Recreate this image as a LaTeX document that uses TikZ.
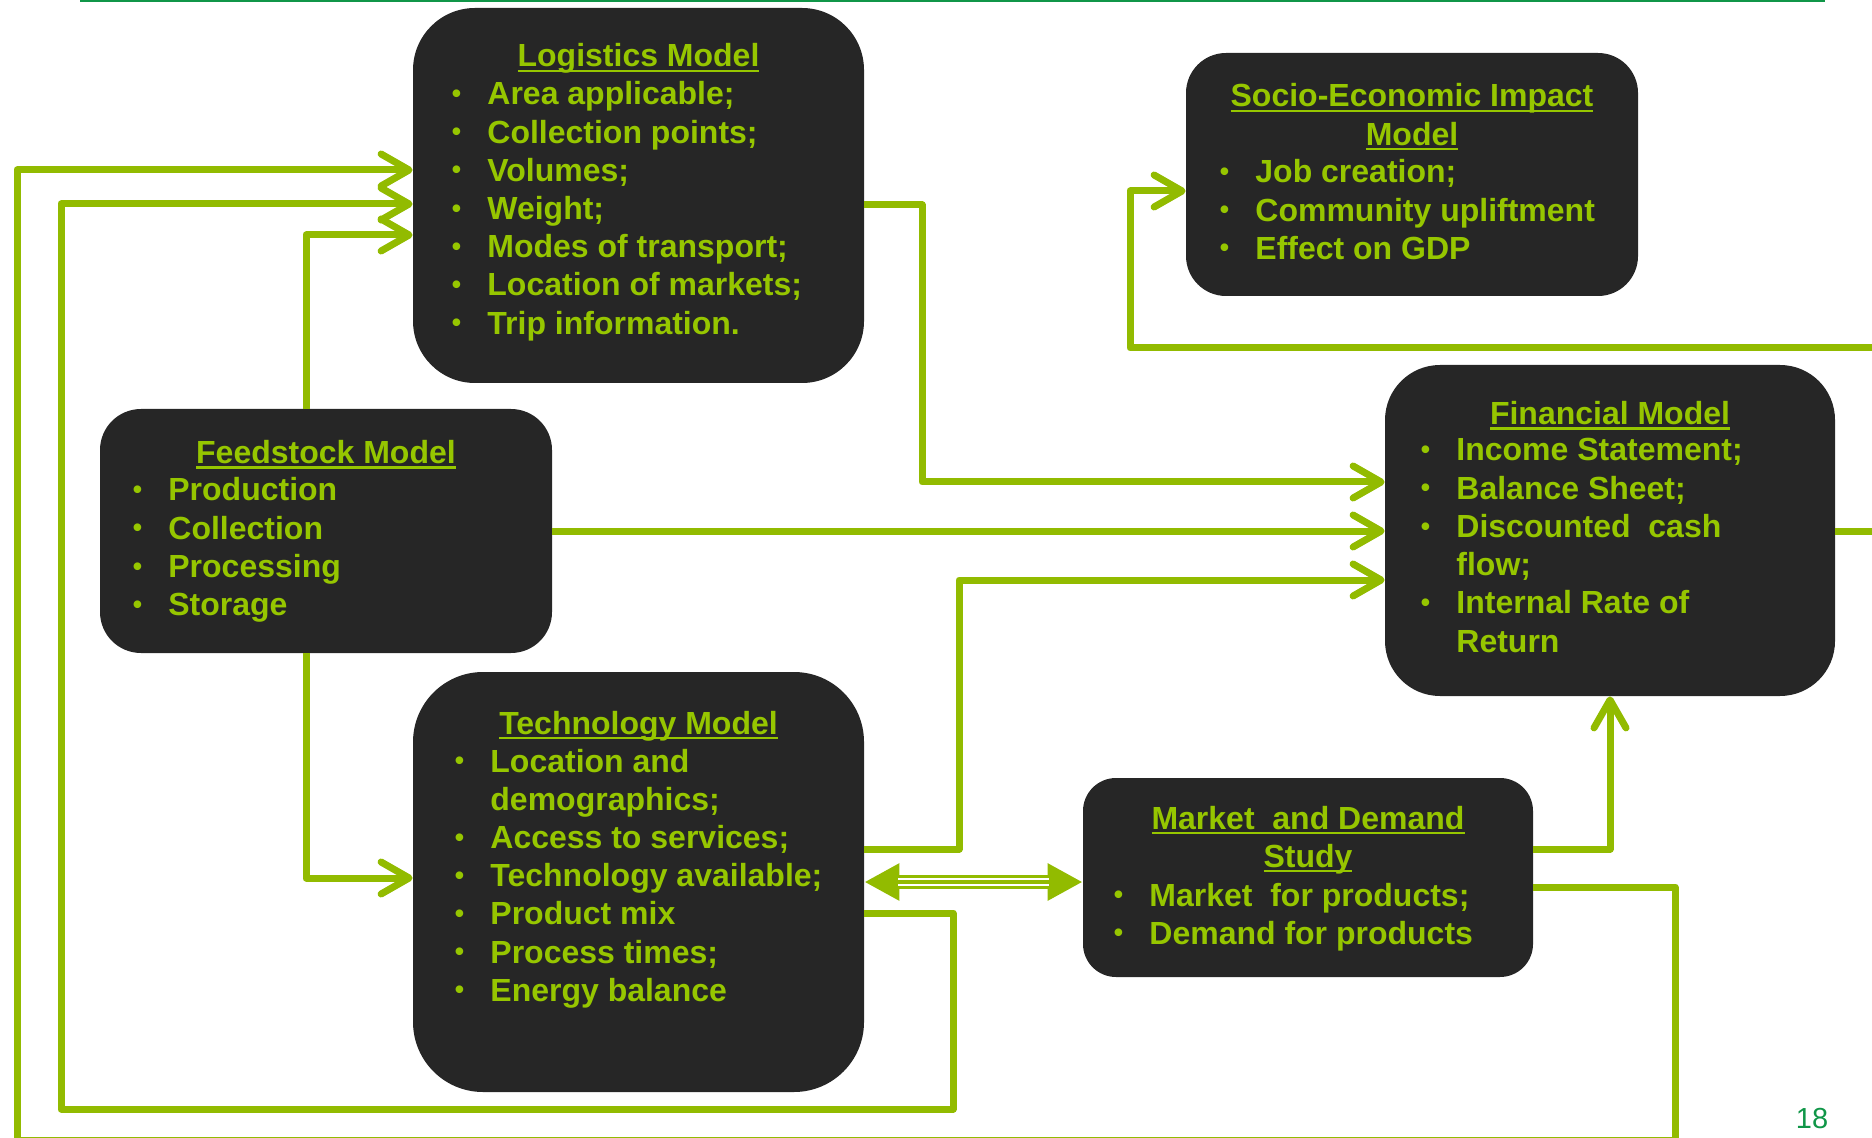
\documentclass[tikz,border=0pt]{standalone}
\usepackage{fontspec}
\setmainfont{Liberation Sans}
\usetikzlibrary{arrows.meta}

\definecolor{boxgray}{RGB}{38,38,38}
\definecolor{modelgreen}{RGB}{150,198,0}
\definecolor{wire}{RGB}{146,187,0}
\definecolor{rulegreen}{RGB}{16,150,72}
\newlength{\ulw}
\newcommand{\uln}[1]{\settowidth{\ulw}{#1}\rlap{\rule[-2.6pt]{\ulw}{1.3pt}}#1}
\newcommand{\bl}{\makebox[18.3pt][l]{\hspace{0.5pt}\fontsize{13.3pt}{13.3pt}\selectfont\raisebox{1.2pt}{\textbullet}}}

\tikzset{
	model/.style={fill=boxgray, inner sep=0pt},
	mtitle/.style={text=modelgreen, inner sep=0pt, anchor=base,
		font=\fontsize{16pt}{19.1pt}\selectfont\bfseries},
	mlist/.style={text=modelgreen, inner sep=0pt, anchor=base west,
		font=\fontsize{16pt}{19.1pt}\selectfont\bfseries},
	flow/.style={draw=wire, line width=3.5pt, line join=round,
		-{Straight Barb[length=14pt, width=16pt, round]}}
}

\begin{document}
\begin{tikzpicture}[x=0.5pt, y=-0.5pt]
		\useasboundingbox (0,0) rectangle (1872,1138);
		\clip (0,0) rectangle (1872,1138);
		\draw[rulegreen, line width=1.2pt] (80,1.2) -- (1825,1.2);

		% boxes
		\node[model, rounded corners=31pt, minimum width=225.5pt, minimum height=187.5pt] (logi) at (638.5,195.5) {};
		\node[model, rounded corners=35pt, minimum width=225.5pt, minimum height=210pt] (tech) at (638.5,882) {};
		\node[model, rounded corners=20.5pt, minimum width=226pt, minimum height=122pt] (feed) at (326,531) {};
		\node[model, rounded corners=20pt, minimum width=226pt, minimum height=121.5pt] (soc) at (1412,174.5) {};
		\node[model, rounded corners=27.5pt, minimum width=225pt, minimum height=165.5pt] (fin) at (1610,530.5) {};
		\node[model, rounded corners=16.5pt, minimum width=225pt, minimum height=99.5pt] (mkt) at (1308,877.5) {};

		% titles
		\node[mtitle] (logiT) at (638.5,67) {\uln{Logistics Model}};
		\node[mtitle] (feedT) at (326,463.5) {\uln{Feedstock Model}};
		\node[mtitle] (techT) at (638.5,734) {\uln{Technology Model}};
		\node[mtitle] (finT) at (1610,424.5) {\uln{Financial Model}};
		\node[mtitle] (mktT) at (1308,829) {\begin{tabular}[t]{@{}c@{}}\uln{Market~ and Demand}\\ \uln{Study}\end{tabular}};
		\node[mtitle] (socT) at (1412,107) {\begin{tabular}[t]{@{}c@{}}\uln{Socio-Economic Impact}\\ \uln{Model}\end{tabular}};

		% lists
		\node[mlist] (logiL) at (450.4,105) {\begin{tabular}[t]{@{}l@{}l@{}}
			\bl & Area applicable;\\
			\bl & Collection points;\\
			\bl & Volumes;\\
			\bl & Weight;\\
			\bl & Modes of transport;\\
			\bl & Location of markets;\\
			\bl & Trip information.
		\end{tabular}};
		\node[mlist] (feedL) at (131.4,501) {\begin{tabular}[t]{@{}l@{}l@{}}
			\bl & Production\\
			\bl & Collection\\
			\bl & Processing\\
			\bl & Storage
		\end{tabular}};
		\node[mlist] (techL) at (453.4,772) {\begin{tabular}[t]{@{}l@{}l@{}}
			\bl & Location and\\
			    & demographics;\\
			\bl & Access to services;\\
			\bl & Technology available;\\
			\bl & Product mix\\
			\bl & Process times;\\
			\bl & Energy balance
		\end{tabular}};
		\node[mlist] (finL) at (1419.4,461) {\begin{tabular}[t]{@{}l@{}l@{}}
			\bl & Income Statement;\\
			\bl & Balance Sheet;\\
			\bl & Discounted~ cash\\
			    & flow;\\
			\bl & Internal Rate of\\
			    & Return
		\end{tabular}};
		\node[mlist] (mktL) at (1112.4,906) {\begin{tabular}[t]{@{}l@{}l@{}}
			\bl & Market~ for products;\\
			\bl & Demand for products
		\end{tabular}};
		\node[mlist] (socL) at (1218.4,183) {\begin{tabular}[t]{@{}l@{}l@{}}
			\bl & Job creation;\\
			\bl & Community upliftment\\
			\bl & Effect on GDP
		\end{tabular}};

		% connectors
		\draw[flow] (mkt.east |- 0,887) -- (1675,887) -- (1675,1140) -- (17,1140) -- (17,170) -- (logi.west |- 0,170);
		\draw[flow] (tech.east |- 0,913) -- (953,913) -- (953,1109) -- (61,1109) -- (61,204) -- (logi.west |- 0,204);
		\draw[flow] (feed.north -| 306,0) -- (306,235) -- (logi.west |- 0,235);
		\draw[flow] (feed.south -| 306,0) -- (306,878) -- (tech.west |- 0,878);
		\draw[flow] (logi.east |- 0,205) -- (922,205) -- (922,482) -- (fin.west |- 0,482);
		\draw[flow] (feed.east |- 0,531) -- (fin.west |- 0,531);
		\draw[flow] (tech.east |- 0,849) -- (959,849) -- (959,580) -- (fin.west |- 0,580);
		\draw[flow] (mkt.east |- 0,849) -| (fin.south);
		\draw[flow] (fin.east |- 0,531) -- (1900,531) -- (1900,348) -- (1130,348) -- (1130,191) -- (soc.west |- 0,191);

		% two-way arrow
		\draw[wire, line width=6.7pt, {Triangle[length=17.5pt, width=17.5pt]}-{Triangle[length=17.5pt, width=17.5pt]}] (tech.east |- 0,882) -- (mkt.west |- 0,882);
		\draw[white, line width=4pt, shorten <=17pt, shorten >=17pt] (tech.east |- 0,882) -- (mkt.west |- 0,882);
		\draw[wire, line width=2.3pt, shorten <=17pt, shorten >=17pt] (tech.east |- 0,882) -- (mkt.west |- 0,882);

		\node[text=rulegreen, font=\fontsize{14.5pt}{17pt}\selectfont, inner sep=0pt] (pgno) at (1812,1119) {18};
\end{tikzpicture}
\end{document}
